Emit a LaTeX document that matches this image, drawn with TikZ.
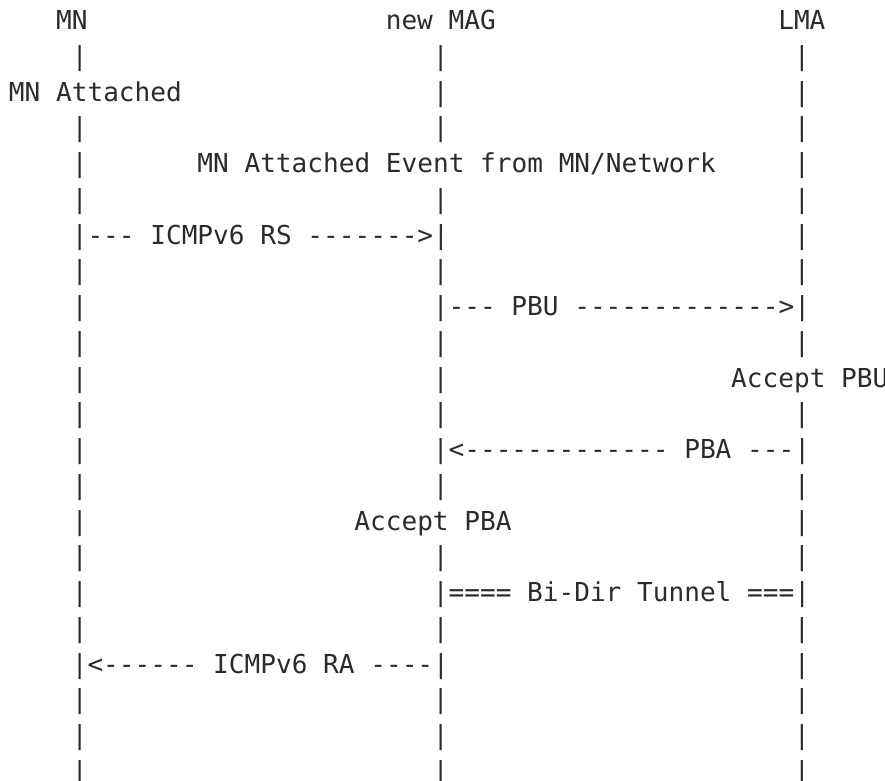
\documentclass[tikz,border=0pt]{standalone}
\usepackage{fontspec}
\setmonofont{DejaVu Sans Mono}
\usepackage{tikz}
\definecolor{ink}{HTML}{2B2B2B}

\begin{document}
\begin{tikzpicture}[x=1pt,y=1pt]
      \tikzstyle{every node} = [anchor=base west, inner sep=0pt, outer sep=0pt, text=ink, font=\fontsize{26.1}{30}\selectfont\ttfamily]
      \useasboundingbox (0,0) rectangle (885,-780);
      % one text column is 15.7 wide, one text row 35.75 high
      \def\cx(#1,#2){({9+15.7*#1},{-29.5-35.75*#2})}

      % heads of the three lifelines
      \node(mn)  at \cx(3,0)  {MN};
      \node(mag) at \cx(24,0) {new MAG};
      \node(lma) at \cx(49,0) {LMA};

      % plain lifeline rows
      \foreach \r in {1,3,5,7,9,11,13,15,17,19,20,21}{
        \node(m\r) at \cx(4,\r)  {|};
        \node(g\r) at \cx(27,\r) {|};
        \node(l\r) at \cx(50,\r) {|};
      }
      % lifeline pieces on the rows with text
      \foreach \r in {4,8,10,12,14,16}{
        \node(m\r) at \cx(4,\r) {|};
      }
      \foreach \r in {2,10}{
        \node(g\r) at \cx(27,\r) {|};
      }
      \foreach \r in {2,4,6,14,18}{
        \node(l\r) at \cx(50,\r) {|};
      }

      % events and messages
      \node(attached) at \cx(0,2)  {MN Attached};
      \node(event)    at \cx(12,4) {MN Attached Event from MN/Network};
      \node(rs)       at \cx(4,6)  {|--- ICMPv6 RS ------->|};
      \node(pbu)      at \cx(27,8) {|--- PBU ------------->|};
      \node(accpbu)   at \cx(46,10) {Accept PBU};
      \node(pba)      at \cx(27,12) {|<------------- PBA ---|};
      \node(accpba)   at \cx(22,14) {Accept PBA};
      \node(tunnel)   at \cx(27,16) {|==== Bi-Dir Tunnel ===|};
      \node(ra)       at \cx(4,18)  {|<------ ICMPv6 RA ----|};
    \end{tikzpicture}
\end{document}
